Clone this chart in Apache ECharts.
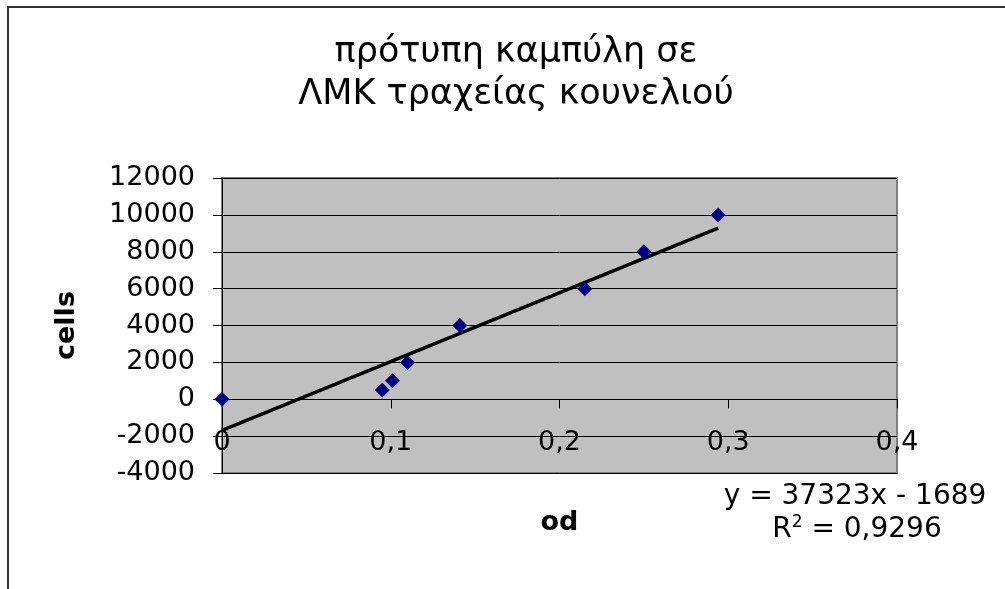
<!DOCTYPE html>
<html>
<head>
<meta charset="utf-8">
<script src="https://cdn.jsdelivr.net/npm/echarts@6/dist/echarts.min.js"></script>
<style>
html,body{margin:0;padding:0;background:#fff;}
#chart{width:1005px;height:589px;}
</style>
</head>
<body>
<div id="chart"></div>
<script>
// ---- data ----
var odValues = [0, 0.095, 0.101, 0.11, 0.141, 0.215, 0.25, 0.294];
var cellValues = [0, 500, 1000, 2000, 4000, 6000, 8000, 10000];
var trendSlope = [37323];
var trendIntercept = [-1689];
var titleLines = ['πρότυπη καμπύλη σε', 'ΛΜΚ τραχείας κουνελιού'];
var equationText = ['y = 37323x - 1689', '0,9296'];
var yTicks = [-4000, 12000, 2000];
var xTicks = [0, 0.4, 0.1];

var points = odValues.map(function (x, i) { return [x, cellValues[i]]; });
var xMinData = Math.min.apply(null, odValues);
var xMaxData = Math.max.apply(null, odValues);
var trend = [xMinData, xMaxData].map(function (x) {
  return [x, trendSlope[0] * x + trendIntercept[0]];
});

var FONT = 'DejaVu Sans';
var chart = echarts.init(document.getElementById('chart'), null, {renderer: 'canvas'});
chart.setOption({
  animation: false,
  backgroundColor: '#ffffff',
  title: {
    text: titleLines.join('\n'),
    left: 511,
    top: 27,
    textAlign: 'center',
    textStyle: {fontFamily: FONT, fontSize: 35, fontWeight: 'normal', color: '#000', lineHeight: 42}
  },
  grid: {
    left: 222, top: 178, width: 675, height: 295,
    show: true, backgroundColor: '#C0C0C0', borderColor: '#808080', borderWidth: 2,
    containLabel: false
  },
  xAxis: {
    type: 'value', min: xTicks[0], max: xTicks[1], interval: xTicks[2],
    name: 'od', nameLocation: 'middle', nameGap: 36,
    nameTextStyle: {fontFamily: FONT, fontSize: 27, fontWeight: 'bold', color: '#000'},
    axisLine: {show: true, onZero: true, lineStyle: {color: '#000', width: 1}},
    axisTick: {show: true, inside: false, length: 9, lineStyle: {color: '#000'}},
    axisLabel: {
      margin: -44, fontFamily: FONT, fontSize: 27, color: '#000',
      formatter: function (v) { return String(+v.toFixed(1)).replace('.', ','); }
    },
    splitLine: {show: false}
  },
  yAxis: {
    type: 'value', min: yTicks[0], max: yTicks[1], interval: yTicks[2],
    name: 'cells', nameLocation: 'middle', nameGap: 142, nameRotate: 90,
    nameTextStyle: {fontFamily: FONT, fontSize: 27, fontWeight: 'bold', color: '#000'},
    axisLine: {show: true, onZero: false, lineStyle: {color: '#000', width: 1}},
    axisTick: {show: true, inside: false, length: 9, lineStyle: {color: '#000'}},
    axisLabel: {margin: 27, fontFamily: FONT, fontSize: 27, color: '#000',
      formatter: function (v) { return String(v); }},
    splitLine: {show: true, lineStyle: {color: '#000', width: 1}}
  },
  series: [
    {
      type: 'line', data: trend, showSymbol: false, symbol: 'none',
      lineStyle: {color: '#000', width: 3.5}, z: 3, silent: true
    },
    {
      type: 'scatter', data: points, symbol: 'diamond', symbolSize: 15,
      itemStyle: {color: '#000080', opacity: 1}, z: 4
    }
  ],
  graphic: [
    {type: 'polyline', shape: {points: [[8, 589], [8, 7], [1005, 7]]},
     style: {stroke: '#333', lineWidth: 2, fill: null}, silent: true},
    {type: 'text', x: 855, y: 497,
     style: {text: equationText[0], fontFamily: FONT, fontSize: 28, fill: '#000', align: 'center', verticalAlign: 'middle'}},
    {type: 'text', x: 857, y: 530,
     style: {text: 'R{sup|2} = ' + equationText[1], fontFamily: FONT, fontSize: 28, fill: '#000', align: 'center', verticalAlign: 'middle',
             rich: {sup: {fontFamily: FONT, fontSize: 17, verticalAlign: 'top', padding: [0, 0, 15, 0]}}}}
  ]
});
</script>
</body>
</html>
